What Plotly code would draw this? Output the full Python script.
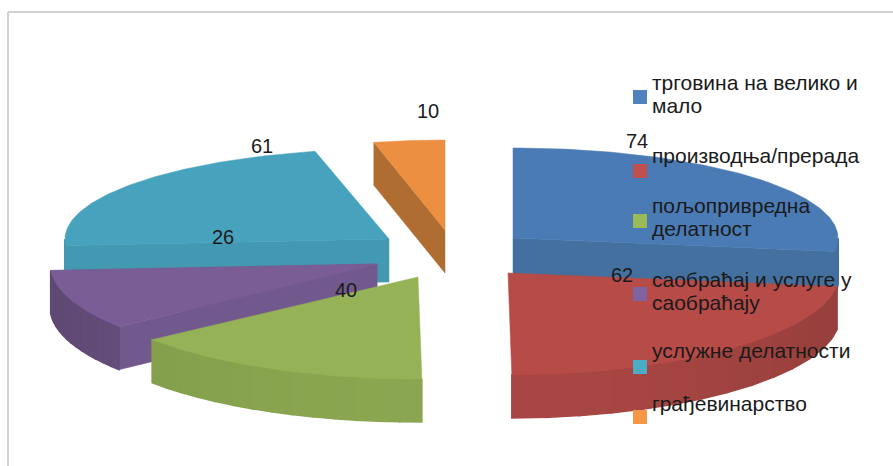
import numpy as np
import plotly.graph_objects as go

# ---- data ----
categories = ["трговина на велико и<br>мало", "производња/прерада", "пољопривредна<br>делатност",
              "саобраћај и услуге у<br>саобраћају", "услужне делатности", "грађевинарство"]
values = [74, 62, 40, 26, 61, 10]

# ---- styles and layout ----
top_colors = ["#4A7BB5", "#B64B48", "#95B257", "#7B5D96", "#47A3BD", "#EC8F41"]
face_colors = ["#44709F", "#A54542", "#88A44F", "#72598D", "#4499B2", "#B06D31"]
wall_dark = ["#44709F", "#963F3C", "#7F9B49", "#5E4973", "#4499B2", "#B06D31"]
wall_light = ["#44709F", "#A84643", "#8BA650", "#6C5585", "#4499B2", "#B06D31"]
marker_colors = ["#4F81BD", "#C0504D", "#9BBB59", "#8064A2", "#4BACC6", "#F79646"]

apex_x = [513, 508, 418, 377, 389, 445]      # exploded slice apexes (pixels)
apex_y = [238, 273, 277, 264, 239, 230]
radius_x = [325, 332, 337, 327, 324, 312]
RY_BACK, RY_FRONT, DEPTH = 90, 102, 43
draw_order = [5, 4, 0, 3, 2, 1]

label_x = [637, 622, 346, 223, 262, 428]
label_y = [143, 277, 292, 239, 148, 113]
legend_marker_y = [97, 171, 221, 294, 367, 417]
legend_text_y = [96, 158, 219, 293, 353, 406]
LINE_GAP = 23
FONT = "Liberation Sans"
FONT_SIZE = 20
LEGEND_FONT_SIZE = 21


def mix(a, b, t):
    ca = [int(a[i:i + 2], 16) for i in (1, 3, 5)]
    cb = [int(b[i:i + 2], 16) for i in (1, 3, 5)]
    return "#%02x%02x%02x" % tuple(round(p + (q - p) * t) for p, q in zip(ca, cb))


def rim(theta, ax, ay, rx):
    """Point on the elliptic rim; theta in degrees clockwise from 12 o'clock."""
    t = np.radians(theta)
    c = np.cos(t)
    ry = np.where(c >= 0, RY_BACK, RY_FRONT)
    return ax + rx * np.sin(t), ay - ry * c


fig = go.Figure()


def poly(xs, ys, color, width=0.5):
    fig.add_trace(go.Scatter(x=list(xs) + [xs[0]], y=list(ys) + [ys[0]], mode="lines", fill="toself",
                             fillcolor=color, line=dict(color=color, width=width),
                             hoverinfo="skip", showlegend=False))


edges = np.concatenate([[0], np.cumsum(values)]) / sum(values) * 360
for i in draw_order:
    a0, a1 = edges[i], edges[i + 1]
    ax, ay, rx = apex_x[i], apex_y[i], radius_x[i]
    # cut faces seen from the front
    face_angles = {0: [a1], 3: [a0, a1], 4: [a0], 5: [a0]}.get(i, [])
    for ang in face_angles:
        ex, ey = rim(ang, ax, ay, rx)
        poly([ax, float(ex), float(ex), ax], [ay, float(ey), float(ey) + DEPTH, ay + DEPTH], face_colors[i])
    # outer wall on the front half
    lo, hi = max(a0, 90), min(a1, 270)
    if hi > lo:
        n = 14
        steps = np.linspace(lo, hi, n + 1)
        for k in range(n):
            mid = (steps[k] + steps[k + 1]) / 2
            th = np.linspace(steps[k], steps[k + 1], 5)
            x, y = rim(th, ax, ay, rx)
            shade = 1 - abs(np.sin(np.radians(mid))) ** 2
            poly(list(x) + list(x[::-1]), list(y) + list(y[::-1] + DEPTH),
                 mix(wall_dark[i], wall_light[i], float(shade)), width=1.5)
    # top surface
    th = np.linspace(a0, a1, 80)
    x, y = rim(th, ax, ay, rx)
    poly([ax] + list(x), [ay] + list(y), top_colors[i])

# value labels
fig.add_trace(go.Scatter(x=label_x, y=label_y, mode="text", text=[str(v) for v in values],
                         textfont=dict(family=FONT, size=FONT_SIZE, color="#1a1a1a"),
                         hoverinfo="skip", showlegend=False))
# legend markers and texts
fig.add_trace(go.Scatter(x=[640] * 6, y=legend_marker_y, mode="markers",
                         marker=dict(symbol="square", size=14, color=marker_colors, line=dict(width=0)),
                         hoverinfo="skip", showlegend=False))
line_text, line_y = [], []
for name, yc in zip(categories, legend_text_y):
    parts = name.split("<br>")
    for j, part in enumerate(parts):
        line_text.append(part)
        line_y.append(yc + (j - (len(parts) - 1) / 2) * LINE_GAP)
fig.add_trace(go.Scatter(x=[652] * len(line_text), y=line_y, mode="text", text=line_text,
                         textposition="middle right",
                         textfont=dict(family=FONT, size=LEGEND_FONT_SIZE, color="#1a1a1a"),
                         hoverinfo="skip", showlegend=False))

fig.update_layout(
    width=893, height=466, margin=dict(l=0, r=0, t=0, b=0),
    paper_bgcolor="white", plot_bgcolor="white",
    xaxis=dict(range=[0, 893], visible=False, fixedrange=True),
    yaxis=dict(range=[466, 0], visible=False, fixedrange=True),
    shapes=[
        dict(type="line", xref="x", yref="y", x0=8, x1=8, y0=12, y1=466, line=dict(color="#d2d2d2", width=2)),
        dict(type="line", xref="x", yref="y", x0=8, x1=893, y0=12, y1=12, line=dict(color="#d2d2d2", width=2)),
    ],
)
fig.write_html("out.html", config={"displayModeBar": False},
               post_script="document.body.style.margin='0';document.body.style.overflow='hidden';")
